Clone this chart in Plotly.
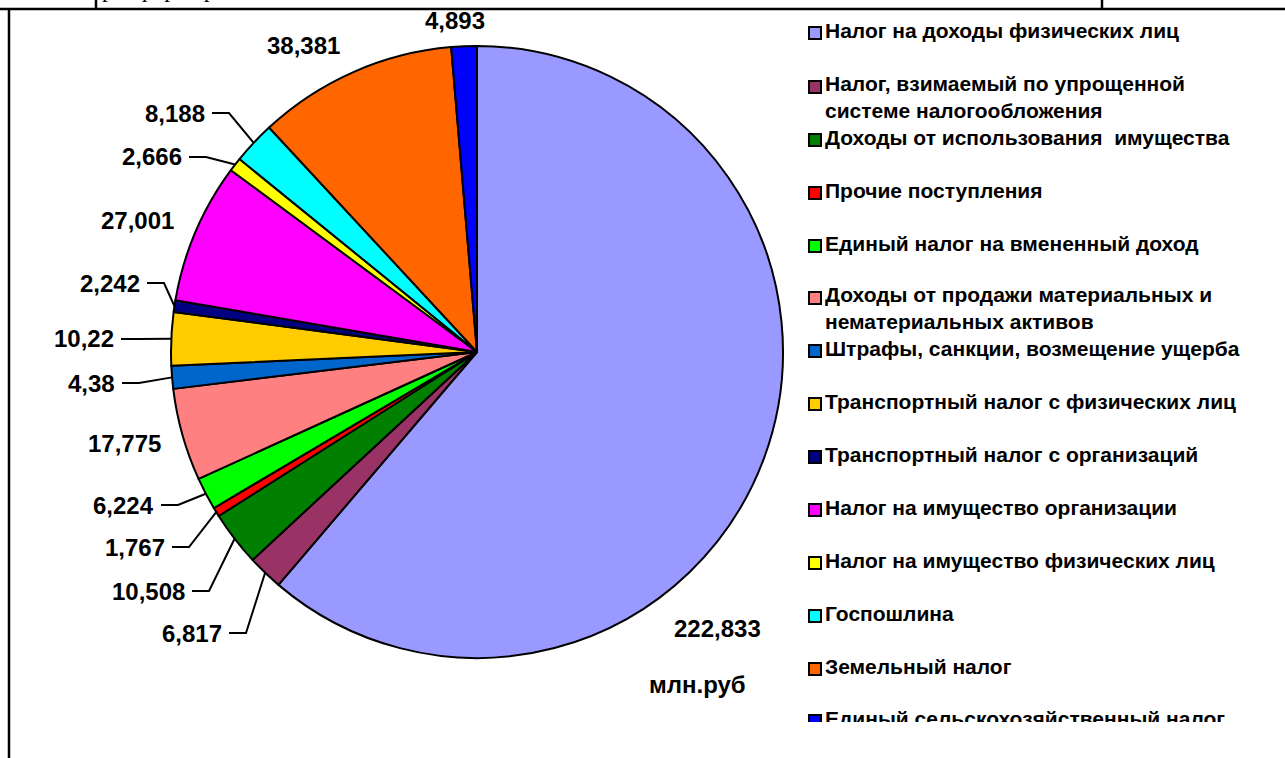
import math
import plotly.graph_objects as go

W, H = 1285, 758

# ---------------- data ----------------
categories = [
    "Налог на доходы физических лиц",
    "Налог, взимаемый по упрощенной<br>системе налогообложения",
    "Доходы от использования  имущества",
    "Прочие поступления",
    "Единый налог на вмененный доход",
    "Доходы от продажи материальных и<br>нематериальных активов",
    "Штрафы, санкции, возмещение ущерба",
    "Транспортный налог с физических лиц",
    "Транспортный налог с организаций",
    "Налог на имущество организации",
    "Налог на имущество физических лиц",
    "Госпошлина",
    "Земельный налог",
    "Единый сельскохозяйственный налог",
]
values = [222.833, 6.817, 10.508, 1.767, 6.224, 17.775, 4.38, 10.22,
          2.242, 27.001, 2.666, 8.188, 38.381, 4.893]
value_labels = [str(v).replace(".", ",") for v in values]
unit_label = "млн.руб"

# ---------------- styles / layout ----------------
colors = ["#9999FF", "#993366", "#007F00", "#FF0000", "#00FF00", "#FF8080",
          "#0066CC", "#FFCC00", "#000080", "#FF00FF", "#FFFF00", "#00FFFF",
          "#FF6600", "#0000FF"]

CX, CY, R = 477, 352, 306          # pie centre / radius in pixels
# label positions (pixels): x, y, anchor, has leader line
label_pos = [
    (717, 628, "center", False),
    (224, 633, "right", True),
    (187, 591, "right", True),
    (167, 547, "right", True),
    (156, 505, "right", True),
    (124, 443, "center", False),
    (117, 383, "right", True),
    (116, 339, "right", True),
    (142, 283, "right", True),
    (137, 220, "center", False),
    (184, 157, "right", True),
    (207, 113, "right", True),
    (303, 46, "center", False),
    (455, 20, "center", False),
]
legend_y = [33, 87, 140, 193, 246, 298, 351, 404, 457, 510, 563, 616, 669, 721]
LEG_MX, LEG_TX = 815, 825
LEG_CLIP = 722

FONT = "Liberation Sans, Arial, sans-serif"


def px(x):
    return x / W


def py(y):
    return 1 - y / H


fig = go.Figure()

fig.add_trace(go.Pie(
    labels=[c.replace("<br>", " ") for c in categories],
    values=values,
    sort=False,
    direction="clockwise",
    rotation=0,
    textinfo="none",
    hoverinfo="label+value",
    marker=dict(colors=colors, line=dict(color="black", width=2)),
    domain=dict(x=[px(CX - R), px(CX + R)], y=[py(CY + R), py(CY - R)]),
    showlegend=False,
))

# ---------------- legend as clipped scatter (cut at bottom like reference) ----------------
text_y = []
for name, y in zip(categories, legend_y):
    text_y.append(y + 12 if "<br>" in name else y)

fig.add_trace(go.Scatter(
    x=[LEG_MX] * len(categories), y=legend_y, mode="markers",
    marker=dict(symbol="square", size=12, color=colors,
                line=dict(color="black", width=2)),
    xaxis="x", yaxis="y", cliponaxis=True, hoverinfo="skip", showlegend=False,
))
fig.add_trace(go.Scatter(
    x=[LEG_TX] * len(categories), y=text_y, mode="text",
    text=categories, textposition="middle right",
    textfont=dict(family=FONT, size=21, color="black", weight="bold"),
    xaxis="x", yaxis="y", cliponaxis=True, hoverinfo="skip", showlegend=False,
))

# ---------------- data labels + leader lines ----------------
annotations = []
shapes = []
total = sum(values)
cum = 0.0
for v, lab, (lx, ly, anc, lead) in zip(values, value_labels, label_pos):
    mid = (cum + v / 2) / total * 2 * math.pi
    cum += v
    annotations.append(dict(
        x=px(lx), y=py(ly), xref="paper", yref="paper", text=lab,
        showarrow=False, xanchor=anc, yanchor="middle",
        font=dict(family=FONT, size=24, color="black", weight="bold"),
    ))
    if lead:
        ex = CX + R * math.sin(mid)
        ey = CY - R * math.cos(mid)
        x0, x1 = lx + 5, lx + 22
        path = "M {} {} L {} {} L {} {}".format(
            px(x0), py(ly), px(x1), py(ly), px(ex), py(ey))
        shapes.append(dict(type="path", path=path, xref="paper", yref="paper",
                           line=dict(color="black", width=2)))

annotations.append(dict(
    x=px(697), y=py(684), xref="paper", yref="paper", text=unit_label,
    showarrow=False, xanchor="center", yanchor="middle",
    font=dict(family=FONT, size=24, color="black", weight="bold"),
))
# cut-off line of the document text above the chart (only descenders visible)
annotations.append(dict(
    x=px(100), y=py(-11), xref="paper", yref="paper", text="ра  формир",
    showarrow=False, xanchor="left", yanchor="middle",
    font=dict(family="Liberation Serif, Times New Roman, serif", size=24, color="black"),
))

# table frame lines
frame = [
    (0, 9, W, 9),
    (9, 9, 9, H),
    (96, 0, 96, 9),
    (1102, 0, 1102, 9),
]
for x0, y0, x1, y1 in frame:
    shapes.append(dict(type="line", xref="paper", yref="paper",
                       x0=px(x0), y0=py(y0), x1=px(x1), y1=py(y1),
                       line=dict(color="black", width=2.5)))

fig.update_layout(
    width=W, height=H,
    margin=dict(l=0, r=0, t=0, b=0),
    paper_bgcolor="white", plot_bgcolor="rgba(0,0,0,0)",
    showlegend=False,
    xaxis=dict(domain=[px(780), 1], range=[780, W], visible=False, fixedrange=True),
    yaxis=dict(domain=[py(LEG_CLIP), 1], range=[LEG_CLIP, 0], visible=False, fixedrange=True),
    annotations=annotations,
    shapes=shapes,
)

fig.write_html("out.html", config={"displayModeBar": False},
               post_script="document.body.style.margin='0px';")
